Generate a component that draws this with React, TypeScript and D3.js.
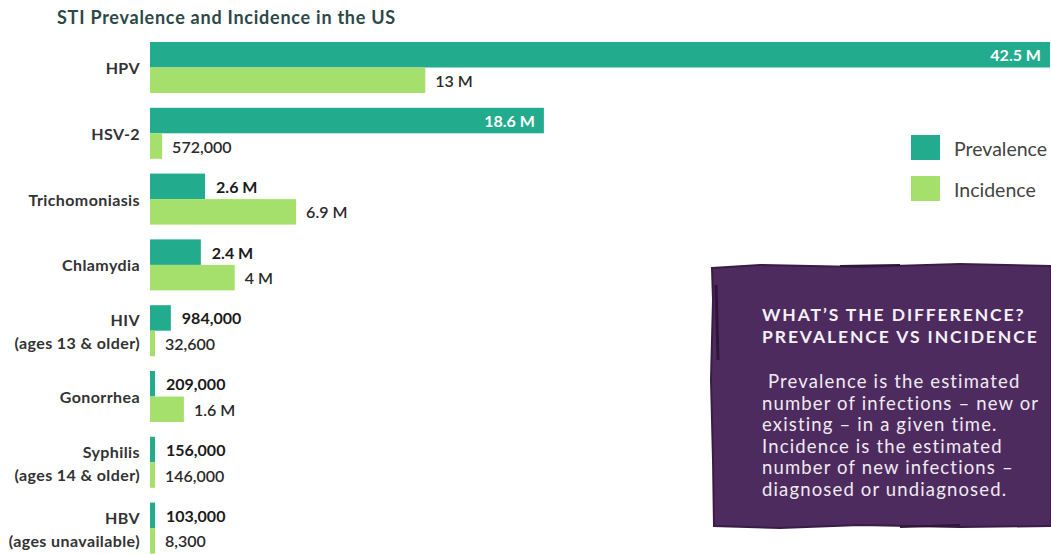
import React from "react";
import * as d3 from "d3";

const categories = ["HPV", "HSV-2", "Trichomoniasis", "Chlamydia", "HIV", "Gonorrhea", "Syphilis", "HBV"];
const subLabels = ["", "", "", "", "(ages 13 & older)", "", "(ages 14 & older)", "(ages unavailable)"];
const prevalence = [42.5e6, 18.6e6, 2.6e6, 2.4e6, 984000, 209000, 156000, 103000];
const incidence = [13e6, 572000, 6.9e6, 4e6, 32600, 1.6e6, 146000, 8300];
const prevalenceLabels = ["42.5 M", "18.6 M", "2.6 M", "2.4 M", "984,000", "209,000", "156,000", "103,000"];
const incidenceLabels = ["13 M", "572,000", "6.9 M", "4 M", "32,600", "1.6 M", "146,000", "8,300"];
const seriesNames = ["Prevalence", "Incidence"];
const boxTitle = ["WHAT\u2019S THE DIFFERENCE?", "PREVALENCE VS INCIDENCE"];
const boxBody = [
  " Prevalence is the estimated",
  "number of infections \u2013 new or",
  "existing \u2013 in a given time.",
  "Incidence is the estimated",
  "number of new infections \u2013",
  "diagnosed or undiagnosed.",
];

const W = 1051;
const H = 554;
const PREV = "#22ab8c";
const INC = "#a6e06c";
const FONT = "Lato, 'Open Sans', sans-serif";
const MINW = 5;

export default function App() {
  const x = d3.scaleLinear().domain([0, 42.5e6]).range([150, 1050]);
  const y = d3.scaleBand<string>().domain(categories).range([42, 553.6]).paddingInner(0.225).paddingOuter(0);
  const bw = y.bandwidth();
  const half = bw / 2;
  const wOf = (v: number) => Math.max(MINW, x(v) - x(0));

  const boxPath = "M712,268 L760,265 L860,267 L960,264 L1051,266 L1051,526 L960,527 L860,525 L780,528 L714,526 L713,460 L711,380 L713,300 Z";
  const catStyle = { fontSize: 16, fontWeight: 700, fill: "#333", letterSpacing: 0.4 } as const;

  return (
    <svg width={W} height={H} style={{ position: "absolute", left: 0, top: 0, background: "#fff" }} fontFamily={FONT}>
      <text x={57} y={17} fontSize={18} fontWeight={700} fill="#2c4848" letterSpacing={0.75} dominantBaseline="central">
        STI Prevalence and Incidence in the US
      </text>

      {categories.map((c, i) => {
        const top = y(c)!;
        const mid = top + half;
        const pw = wOf(prevalence[i]);
        const iw = wOf(incidence[i]);
        const inside = pw > 100;
        return (
          <g key={c}>
            <rect x={x(0)} y={top} width={pw} height={half} fill={PREV} />
            <rect x={x(0)} y={mid} width={iw} height={half} fill={INC} />
            {subLabels[i] ? (
              <>
                <text x={140} y={mid - 11} textAnchor="end" {...catStyle} dominantBaseline="central">{c}</text>
                <text x={140} y={mid + 12} textAnchor="end" {...catStyle} dominantBaseline="central">{subLabels[i]}</text>
              </>
            ) : (
              <text x={140} y={mid} textAnchor="end" {...catStyle} dominantBaseline="central">{c}</text>
            )}
            <text
              x={inside ? x(0) + pw - 9 : x(0) + pw + 11}
              y={top + half / 2}
              textAnchor={inside ? "end" : "start"}
              fontSize={16}
              fontWeight={700}
              fill={inside ? "#fff" : "#1a1a1a"}
              dominantBaseline="central"
            >
              {prevalenceLabels[i]}
            </text>
            <text
              x={x(0) + iw + 10}
              y={mid + half / 2}
              textAnchor="start"
              fontSize={16}
              fontWeight={600}
              fill="#2a2a2a"
              dominantBaseline="central"
            >
              {incidenceLabels[i]}
            </text>
          </g>
        );
      })}

      {seriesNames.map((s, i) => (
        <g key={s}>
          <rect x={911} y={135 + i * 41} width={29} height={25} fill={i === 0 ? PREV : INC} />
          <text x={954} y={148 + i * 41} fontSize={19.5} fill="#444" dominantBaseline="central">{s}</text>
        </g>
      ))}

      <path d={boxPath} fill="#4e2b5e" stroke="#3a1d47" strokeWidth={2} />
      <path d="M716,285 L718,360" stroke="#2e1638" strokeWidth={3} fill="none" />
      <path d="M840,266 L900,265" stroke="#2e1638" strokeWidth={2} fill="none" />
      <path d="M900,527 L960,525" stroke="#2e1638" strokeWidth={2} fill="none" />
      {boxTitle.map((t, i) => (
        <text key={t} x={762} y={314 + i * 22} fontSize={17.5} fontWeight={700} fill="#f4f0f6" letterSpacing={1.9} dominantBaseline="central">{t}</text>
      ))}
      {boxBody.map((t, i) => (
        <text key={i} x={762} y={381 + i * 21.6} fontSize={18.5} fill="#efeaf1" letterSpacing={1.15} dominantBaseline="central" style={{ whiteSpace: "pre" }}>{t}</text>
      ))}
    </svg>
  );
}
